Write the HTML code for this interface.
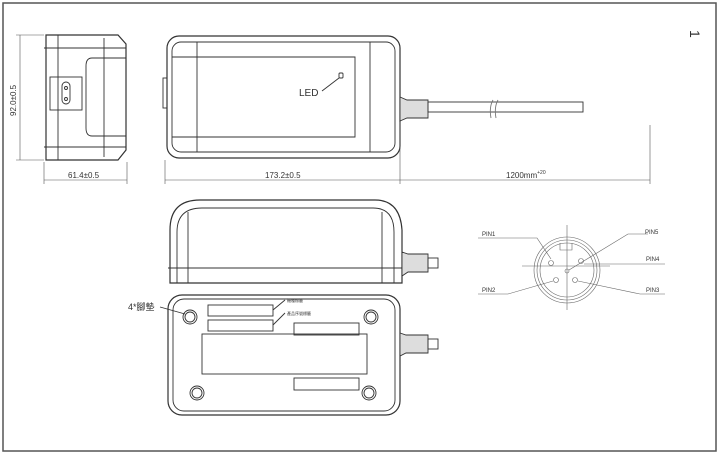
<!DOCTYPE html>
<html><head><style>
body{margin:0;background:#fff;width:720px;height:453px;overflow:hidden}
svg{display:block}
text{font-family:"Liberation Sans","Noto Sans CJK SC",sans-serif;fill:#333}
</style></head><body>
<svg width="720" height="453" viewBox="0 0 720 453" fill="none" stroke="#333" stroke-width="0.9">
<rect x="3" y="3" width="713" height="448" stroke="#555" stroke-width="1.5"/>
<text x="690" y="30" font-size="14" transform="rotate(90 690 30)" stroke="none">1</text>
<!-- side view -->
<path d="M46 35 H118 L126 44 V150 L118 160 H46 Z" stroke-width="1.2"/>
<line x1="44" y1="48" x2="126" y2="48"/><line x1="44" y1="147" x2="126" y2="147"/>
<line x1="58" y1="35" x2="58" y2="160"/><line x1="104" y1="38" x2="104" y2="157"/>
<path d="M126 58 H92 Q86 58 86 66 V128 Q86 136 92 136 H126"/>
<rect x="50" y="77" width="32" height="33"/>
<path d="M62 86 a4 4 0 1 1 8 0 v14 a4 4 0 1 1 -8 0 Z"/>
<circle cx="66" cy="88" r="1.5"/><circle cx="66" cy="99" r="1.5"/>
<!-- top view -->
<rect x="167" y="36" width="233" height="122" rx="12" stroke-width="1.2"/>
<rect x="172" y="42" width="223" height="110" rx="9"/>
<path d="M172 57 H355 V137 H172"/>
<line x1="197" y1="42" x2="197" y2="152"/><line x1="370" y1="42" x2="370" y2="152"/>
<rect x="163" y="78" width="4" height="30"/>
<rect x="339" y="73" width="4" height="5" rx="1"/>
<line x1="322" y1="91" x2="339" y2="78"/>
<text x="299" y="96" font-size="10" stroke="none">LED</text>
<!-- cable -->
<path d="M400 97 L407 100 H428 V118 H407 L400 121 Z" fill="#ddd"/>
<rect x="428" y="102" width="155" height="10"/>
<path d="M493 100 Q489 107 491 118 M498 100 Q494 107 496 118" stroke="#777"/>
<!-- dimensions -->
<g stroke="#555" stroke-width="0.6">
<line x1="44" y1="180" x2="127" y2="180"/><line x1="44" y1="162" x2="44" y2="184"/><line x1="127" y1="162" x2="127" y2="184"/>
<line x1="165" y1="180" x2="400" y2="180"/><line x1="165" y1="160" x2="165" y2="184"/><line x1="400" y1="122" x2="400" y2="184"/>
<line x1="400" y1="180" x2="650" y2="180"/><line x1="650" y1="125" x2="650" y2="184"/>
<line x1="20" y1="35" x2="20" y2="160"/><line x1="16" y1="35" x2="44" y2="35"/><line x1="16" y1="160" x2="44" y2="160"/>
</g>
<text x="68" y="178" font-size="8" stroke="none">61.4±0.5</text>
<text x="265" y="178" font-size="8" stroke="none">173.2±0.5</text>
<text x="506" y="178" font-size="8" stroke="none">1200mm<tspan font-size="5" dy="-4">+20</tspan></text>
<text x="16" y="116" font-size="8" stroke="none" transform="rotate(-90 16 116)">92.0±0.5</text>
<!-- front view -->
<path d="M170 283 V230 Q170 200 200 200 H375 Q400 200 402 230 V283 Z" stroke-width="1.2"/>
<path d="M177 283 V232 Q177 208 202 208 H373 Q394 208 394 232 V283"/>
<line x1="168" y1="268" x2="402" y2="268" stroke-width="1"/>
<line x1="188" y1="212" x2="188" y2="283"/><line x1="382" y1="212" x2="382" y2="283"/>
<path d="M402 252 L408 254 H428 V272 H408 L402 276 Z" fill="#ddd"/>
<rect x="428" y="258" width="10" height="10"/>
<!-- bottom view -->
<rect x="168" y="295" width="232" height="120" rx="14" stroke-width="1.2"/>
<rect x="173" y="299" width="222" height="112" rx="11"/>
<circle cx="190" cy="317" r="7"/><circle cx="190" cy="317" r="5"/>
<circle cx="371" cy="317" r="7"/><circle cx="371" cy="317" r="5"/>
<circle cx="197" cy="393" r="7"/><circle cx="197" cy="393" r="5"/>
<circle cx="369" cy="393" r="7"/><circle cx="369" cy="393" r="5"/>
<rect x="208" y="305" width="65" height="11"/><rect x="208" y="320" width="65" height="11"/>
<rect x="294" y="323" width="65" height="12"/><rect x="294" y="378" width="65" height="12"/>
<rect x="202" y="334" width="165" height="40"/>
<line x1="273" y1="310" x2="285" y2="300"/><line x1="273" y1="325" x2="285" y2="313"/>
<text x="287" y="302" font-size="4" stroke="none">機種標籤</text>
<text x="287" y="315" font-size="4" stroke="none">產品序號標籤</text>
<line x1="160" y1="307" x2="185" y2="314"/>
<text x="128" y="310" font-size="9" stroke="none">4*腳墊</text>
<path d="M400 333 L406 335 H428 V353 H406 L400 356 Z" fill="#ddd"/>
<rect x="428" y="339" width="10" height="10"/>
<!-- connector -->
<g stroke="#666" stroke-width="0.6">
<circle cx="567" cy="270" r="33"/><circle cx="567" cy="270" r="30"/><circle cx="567" cy="270" r="27"/>
<path d="M560 243 V250 H572 V243"/>
<line x1="567" y1="225" x2="567" y2="310"/><line x1="522" y1="266" x2="610" y2="266"/>
<circle cx="551" cy="263" r="2.5"/><circle cx="581" cy="261" r="2.5"/><circle cx="567" cy="271" r="2"/>
<circle cx="556" cy="280" r="2.5"/><circle cx="575" cy="280" r="2.5"/>
<path d="M478 238 H537 L551 259"/><path d="M648 234 H628 L569 270"/><path d="M584 264 H665"/>
<path d="M478 294 H508 L553 281"/><path d="M665 294 H640 L578 281"/>
</g>
<text x="482" y="236" font-size="6" stroke="none">PIN1</text>
<text x="645" y="234" font-size="6" stroke="none">PIN5</text>
<text x="646" y="261" font-size="6" stroke="none">PIN4</text>
<text x="482" y="292" font-size="6" stroke="none">PIN2</text>
<text x="646" y="292" font-size="6" stroke="none">PIN3</text>
</svg>
</body></html>
